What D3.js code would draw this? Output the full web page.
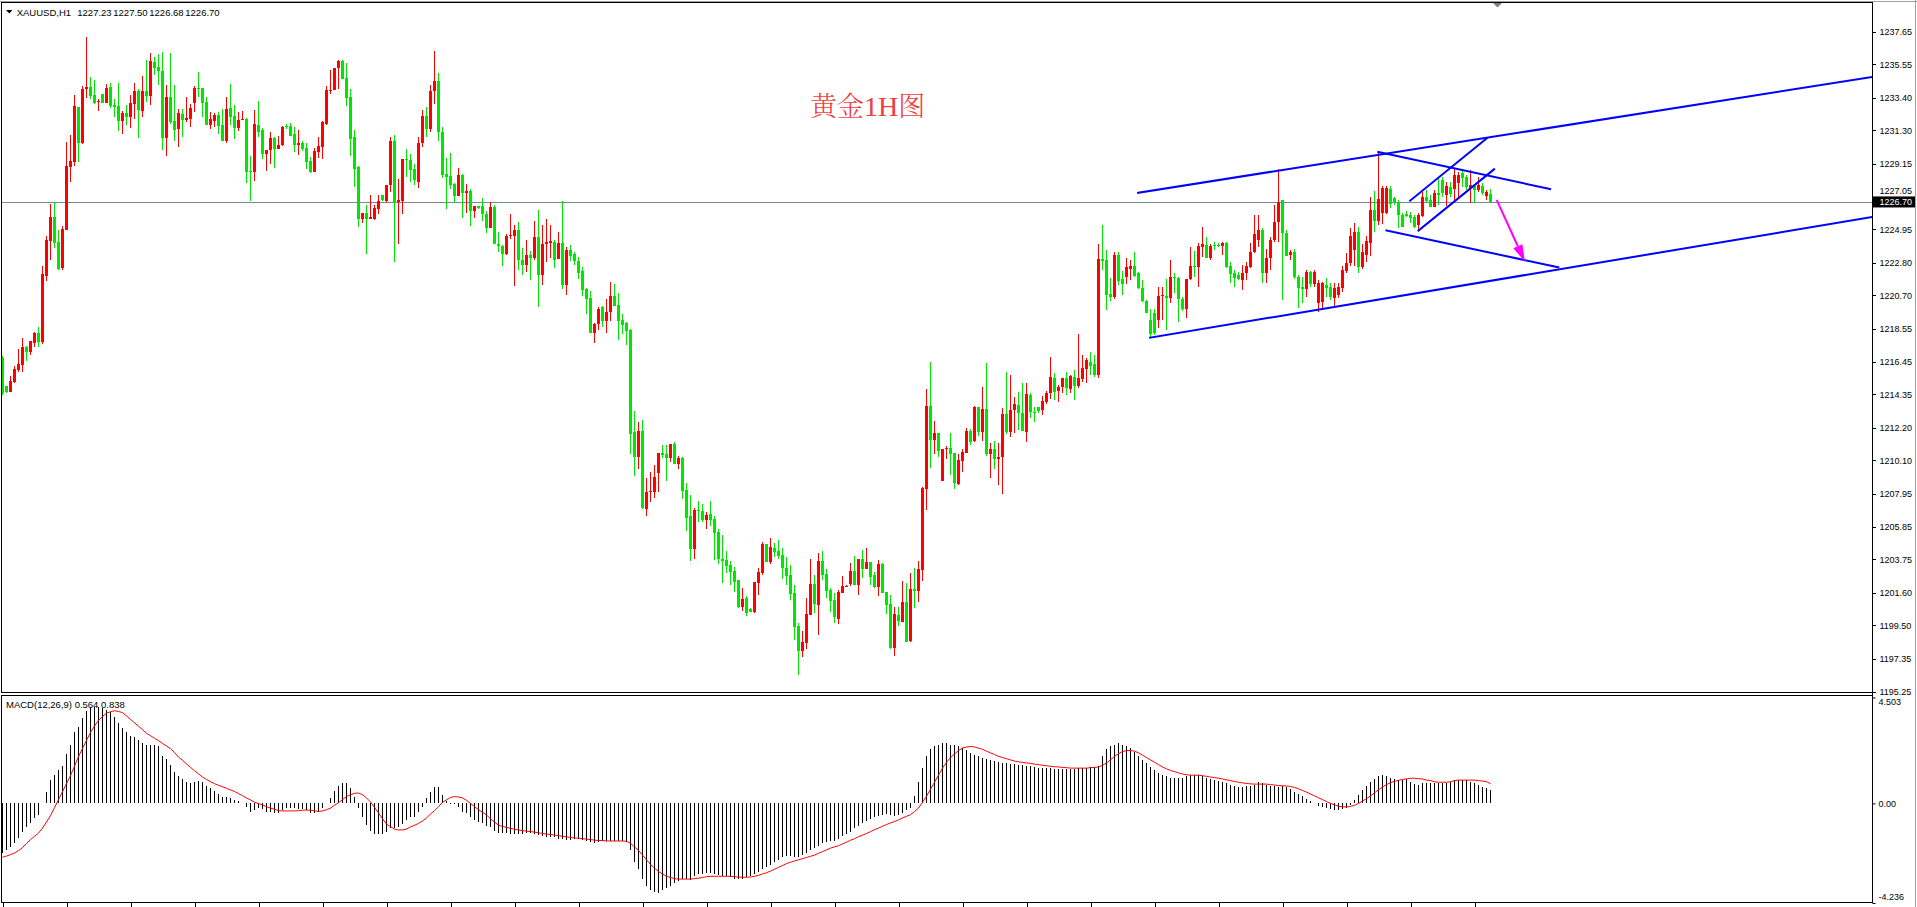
<!DOCTYPE html>
<html><head><meta charset="utf-8">
<script src="https://cdn.jsdelivr.net/npm/d3@7"></script>
<style>
html,body{margin:0;padding:0;background:#fff;overflow:hidden}
svg{display:block}
</style></head><body>
<svg id="c" width="1917" height="907"></svg>
<script>
// ---------- data ----------
const symbolLabel = "XAUUSD,H1";
const quoteValues = ["1227.23", "1227.50", "1226.68", "1226.70"];
const titleParts = ["黄金", "1H", "图"];
const macdLabel = "MACD(12,26,9) 0.564 0.838";
const priceTicks = [1195.25,1197.35,1199.50,1201.60,1203.75,1205.85,1207.95,1210.10,1212.20,1214.35,1216.45,1218.55,1220.70,1222.80,1224.95,1227.05,1229.15,1231.30,1233.40,1235.55,1237.65];
const currentPrice = 1226.70;
const macdTicks = [4.503, 0, -4.236];
const macdTickLabels = ["4.503", "0.00", "-4.236"];

const opens = [
1216.7,1214.88,1214.51,1215.15,1215.9,1216.22,1217.38,1217.08,1217.66,1218.3,
1217.72,1221.97,1224.22,1225.71,1224.13,1222.44,1224.92,1228.97,1229.29,1232.8,
1230.49,1233.94,1234.09,1233.57,1233.1,1233.64,1233.06,1234.09,1232.93,1232.87,
1231.9,1232.42,1232.16,1232.99,1233.83,1232.55,1233.83,1233.51,1235.69,1235.37,
1235.12,1230.81,1233.45,1231.9,1231.39,1232.35,1231.97,1232.03,1233.06,1234.02,
1234.02,1233.12,1231.65,1231.9,1232.29,1231.65,1230.62,1232.74,1232.22,1231.45,
1231.97,1232.03,1228.69,1228.63,1231.65,1231.33,1229.78,1230.04,1230.81,1230.1,
1230.36,1231.58,1231.58,1231.07,1230.36,1230.49,1230.17,1229.33,1228.63,1229.91,
1230.23,1231.71,1233.83,1233.9,1235.31,1235.76,1234.67,1233.45,1230.87,1228.95,
1225.61,1226.0,1225.61,1225.61,1226.24,1227.17,1226.76,1227.78,1230.6,1226.71,
1226.78,1229.49,1229.38,1228.84,1228.0,1230.5,1232.2,1231.4,1233.8,1234.5,
1231.2,1228.51,1228.38,1227.84,1227.06,1228.44,1227.26,1227.43,1226.11,1226.45,
1226.45,1225.95,1225.0,1226.39,1224.02,1223.89,1223.38,1224.51,1224.51,1224.92,
1223.0,1222.65,1223.28,1223.09,1224.45,1222.01,1223.98,1224.04,1224.15,1223.05,
1224.08,1221.38,1223.64,1223.37,1222.9,1222.27,1221.09,1220.5,1218.25,1218.86,
1219.92,1219.03,1219.64,1220.65,1220.09,1219.12,1218.9,1218.45,1211.89,1210.33,
1212.0,1206.99,1208.07,1208.07,1209.28,1210.57,1210.5,1210.28,1211.17,1209.84,
1210.22,1208.22,1206.55,1204.4,1206.9,1206.86,1206.26,1206.67,1206.34,1205.52,
1203.77,1203.67,1203.39,1202.97,1202.44,1200.7,1201.25,1200.55,1200.34,1202.24,
1202.84,1204.73,1203.59,1204.47,1204.28,1204.02,1203.18,1202.74,1201.58,1199.46,
1197.87,1198.39,1200.19,1202.16,1200.83,1203.63,1202.8,1201.77,1201.13,1199.93,
1201.6,1202.03,1202.16,1203.0,1202.09,1203.76,1203.12,1203.59,1202.74,1201.99,
1203.44,1201.64,1200.87,1198.07,1200.17,1199.74,1201.02,1198.5,1201.81,1201.73,
1203.06,1208.28,1213.59,1211.41,1211.84,1208.8,1210.81,1210.91,1210.55,1208.58,
1210.08,1210.59,1211.99,1211.34,1213.53,1211.94,1213.4,1210.51,1210.83,1210.21,
1210.34,1213.08,1211.92,1213.34,1213.66,1213.12,1211.94,1214.3,1213.23,1213.51,
1213.34,1213.87,1214.4,1215.37,1214.55,1214.83,1215.37,1214.66,1215.43,1214.88,
1215.33,1215.97,1216.44,1216.29,1215.58,1223.03,1222.97,1220.79,1220.57,1223.29,
1221.73,1221.9,1222.42,1222.59,1222.11,1221.15,1220.34,1219.12,1219.59,1219.12,
1220.66,1220.66,1220.51,1221.86,1221.79,1220.44,1219.8,1221.73,1222.59,1222.54,
1223.83,1223.94,1223.08,1223.94,1223.94,1223.87,1224.04,1222.59,1222.16,1222.01,
1221.69,1222.16,1222.54,1223.51,1224.25,1224.9,1222.12,1223.08,1224.26,1225.43,
1226.83,1224.73,1223.29,1223.51,1221.9,1221.26,1221.09,1222.22,1221.43,1220.19,
1220.29,1221.36,1221.26,1220.51,1220.72,1221.15,1222.27,1222.76,1223.6,1224.79,
1222.54,1223.3,1224.04,1226.18,1225.5,1226.0,1225.97,1227.51,1226.93,1226.72,
1225.86,1225.92,1225.86,1225.71,1225.22,1225.8,1227.04,1226.82,1226.4,1227.25,
1228.11,1227.14,1227.68,1227.51,1227.94,1228.54,1228.32,1227.57,1227.72,1227.47,
1227.72,1227.08,1227.23];

const highs = [
1216.8,1214.9,1215.52,1216.16,1217.23,1217.96,1217.45,1217.74,1218.34,1218.67,
1222.61,1224.52,1226.57,1226.72,1224.9,1225.16,1230.55,1231.0,1233.59,1232.8,
1234.17,1237.3,1234.73,1234.54,1233.32,1233.64,1234.28,1234.34,1233.32,1234.34,
1232.55,1232.93,1233.57,1234.34,1233.96,1234.79,1235.82,1236.27,1236.01,1236.21,
1236.34,1234.22,1236.27,1234.22,1232.67,1232.67,1233.45,1232.99,1234.15,1235.05,
1234.02,1233.45,1232.48,1232.42,1232.48,1232.67,1233.45,1234.28,1232.93,1232.48,
1232.55,1232.1,1229.66,1232.61,1233.19,1231.45,1230.04,1231.2,1230.87,1230.94,
1231.58,1231.71,1231.78,1231.52,1231.33,1230.62,1230.49,1229.59,1230.17,1230.87,
1231.9,1234.15,1235.18,1235.31,1235.82,1235.82,1235.63,1233.96,1231.33,1229.01,
1226.0,1226.51,1227.15,1226.51,1227.17,1227.17,1227.82,1230.9,1231.0,1228.17,
1229.49,1230.1,1229.77,1229.15,1230.9,1232.6,1232.8,1234.2,1236.4,1235.0,
1231.5,1229.55,1229.83,1227.91,1228.9,1228.51,1227.86,1227.56,1226.45,1226.45,
1226.98,1226.11,1226.72,1226.52,1224.75,1223.96,1224.67,1225.91,1225.23,1225.44,
1223.76,1224.28,1223.55,1225.5,1226.16,1225.23,1225.58,1225.23,1224.28,1224.77,
1226.74,1223.79,1223.94,1223.5,1223.16,1222.5,1221.16,1220.96,1218.95,1219.96,
1220.03,1220.45,1221.55,1221.42,1220.83,1219.49,1218.96,1218.57,1213.28,1212.57,
1212.7,1208.95,1209.38,1209.8,1210.57,1211.06,1211.06,1211.17,1211.25,1210.37,
1210.29,1208.63,1207.87,1207.04,1207.5,1207.3,1206.77,1207.5,1206.55,1205.7,
1205.32,1204.27,1203.63,1203.24,1202.44,1201.89,1201.4,1200.59,1202.31,1203.16,
1204.83,1204.73,1205.09,1204.81,1204.98,1204.5,1203.9,1203.38,1202.09,1199.63,
1199.16,1201.24,1203.76,1202.74,1204.13,1204.28,1203.1,1201.92,1201.56,1201.77,
1202.67,1202.1,1203.53,1203.96,1203.76,1204.34,1204.47,1203.59,1202.95,1203.7,
1203.48,1201.64,1201.45,1200.7,1200.66,1202.35,1202.2,1202.84,1203.21,1203.63,
1208.41,1214.68,1216.44,1212.63,1211.84,1210.81,1211.04,1211.88,1210.55,1210.51,
1210.81,1212.16,1212.14,1213.59,1213.53,1214.79,1216.38,1211.19,1211.34,1211.19,
1213.46,1215.8,1215.58,1214.19,1214.51,1215.09,1215.09,1214.4,1213.55,1213.51,
1214.23,1214.57,1216.76,1215.73,1214.94,1215.37,1215.75,1215.58,1215.9,1218.22,
1216.87,1216.65,1217.06,1216.87,1223.99,1225.22,1223.61,1221.79,1223.51,1223.51,
1222.29,1223.08,1222.97,1223.49,1222.22,1221.69,1220.4,1219.8,1219.8,1221.26,
1221.26,1221.73,1222.97,1222.16,1221.9,1220.62,1221.73,1223.83,1223.57,1224.04,
1225.07,1224.47,1224.0,1224.1,1224.04,1224.15,1224.15,1222.87,1222.33,1222.22,
1222.65,1222.87,1224.04,1225.86,1225.86,1225.01,1223.68,1224.47,1226.51,1228.8,
1226.83,1224.9,1223.61,1223.66,1222.01,1221.9,1222.33,1222.27,1222.33,1221.69,
1221.58,1221.79,1221.47,1221.47,1221.47,1222.59,1223.4,1225.0,1225.33,1225.1,
1224.0,1224.5,1227.04,1227.4,1229.85,1227.75,1227.72,1227.72,1227.04,1226.82,
1225.97,1226.14,1226.07,1225.86,1225.97,1227.36,1227.47,1227.14,1227.47,1228.22,
1228.32,1228.0,1228.0,1228.86,1228.64,1228.75,1228.43,1228.75,1227.79,1228.32,
1227.89,1227.47,1227.5];

const lows = [
1214.3,1214.45,1214.5,1215.09,1215.8,1215.8,1216.48,1216.89,1217.4,1217.4,
1217.6,1221.63,1222.97,1223.72,1222.33,1222.33,1224.9,1228.01,1229.03,1229.29,
1230.43,1233.4,1233.32,1232.97,1232.57,1233.06,1233.06,1232.74,1232.16,1231.26,
1231.07,1231.65,1231.45,1232.03,1230.81,1232.16,1233.12,1232.93,1234.86,1234.22,
1230.04,1229.66,1231.71,1230.62,1230.23,1230.87,1231.84,1231.52,1232.48,1233.45,
1232.16,1231.65,1231.39,1231.52,1231.07,1230.62,1230.49,1231.65,1230.75,1231.26,
1231.97,1227.92,1226.76,1228.05,1230.87,1229.46,1228.69,1229.14,1228.88,1230.1,
1230.3,1231.39,1230.94,1229.91,1229.72,1229.98,1228.82,1228.56,1228.63,1229.53,
1229.46,1231.65,1233.64,1233.9,1233.96,1234.6,1232.87,1229.66,1227.66,1225.09,
1225.35,1223.36,1225.61,1225.54,1225.91,1226.76,1226.71,1227.33,1222.86,1223.98,
1225.91,1228.33,1228.0,1227.8,1227.58,1230.2,1230.9,1231.2,1233.0,1230.6,
1228.23,1226.24,1227.53,1226.62,1227.06,1225.68,1225.98,1225.13,1225.67,1226.23,
1225.5,1224.72,1225.0,1224.02,1223.48,1222.6,1223.27,1224.32,1221.27,1222.31,
1221.99,1222.23,1221.68,1222.94,1219.96,1221.38,1222.85,1223.1,1222.45,1223.05,
1221.12,1220.74,1222.9,1222.64,1221.76,1220.68,1219.47,1218.25,1217.65,1218.47,
1218.64,1218.25,1219.03,1220.03,1217.85,1218.19,1217.51,1210.52,1209.07,1209.53,
1206.99,1206.5,1207.42,1207.67,1208.07,1210.23,1208.75,1209.97,1209.84,1209.57,
1207.63,1205.58,1203.63,1203.77,1206.17,1206.17,1205.7,1205.86,1203.68,1203.45,
1202.25,1202.87,1202.1,1201.62,1200.63,1200.45,1200.1,1200.34,1200.27,1201.45,
1202.74,1203.59,1203.44,1203.91,1203.76,1202.5,1202.09,1201.13,1198.56,1196.3,
1197.45,1198.0,1200.19,1200.32,1198.88,1202.41,1201.24,1200.34,1199.67,1199.57,
1201.56,1202.0,1202.03,1202.09,1201.45,1202.52,1203.12,1202.09,1201.88,1201.41,
1201.56,1200.23,1198.0,1197.53,1199.48,1199.74,1198.45,1198.45,1200.64,1201.02,
1202.37,1206.91,1209.63,1210.51,1210.34,1208.8,1210.17,1209.16,1208.24,1208.52,
1209.37,1210.59,1211.09,1211.28,1211.69,1211.34,1210.38,1208.99,1209.52,1208.52,
1207.92,1211.79,1211.62,1211.84,1212.05,1212.01,1211.3,1212.84,1212.58,1213.12,
1213.01,1213.72,1214.02,1213.98,1213.87,1214.4,1214.3,1214.45,1213.98,1214.73,
1215.11,1215.09,1215.58,1215.43,1215.41,1222.33,1219.76,1220.36,1220.44,1221.36,
1220.72,1221.43,1221.69,1221.86,1221.09,1220.29,1219.55,1218.05,1218.15,1218.58,
1219.12,1218.47,1220.19,1220.87,1219.01,1219.72,1219.22,1221.69,1221.9,1221.26,
1223.19,1223.08,1223.0,1223.6,1223.8,1223.29,1222.44,1221.47,1221.26,1221.69,
1221.04,1221.69,1222.44,1223.4,1223.83,1221.47,1221.47,1222.33,1224.15,1224.15,
1220.4,1223.23,1222.97,1221.73,1219.87,1220.19,1220.62,1221.26,1221.26,1219.65,
1219.76,1220.62,1220.4,1219.98,1220.51,1220.94,1222.16,1222.59,1222.6,1222.11,
1222.37,1222.87,1223.23,1224.8,1225.2,1225.3,1225.9,1226.29,1226.5,1225.0,
1225.07,1225.75,1225.32,1225.0,1224.9,1225.75,1226.72,1226.35,1226.35,1226.5,
1227.04,1226.44,1227.04,1226.82,1227.04,1227.68,1227.47,1226.65,1226.61,1227.36,
1227.14,1226.82,1226.68];

const closes = [
1214.4,1214.5,1215.2,1215.97,1216.29,1217.38,1217.08,1217.74,1218.3,1217.72,
1222.07,1224.26,1225.71,1224.09,1222.4,1224.97,1228.99,1229.33,1232.87,1230.49,
1233.96,1234.09,1233.53,1233.06,1233.19,1233.06,1234.02,1232.87,1232.8,1231.9,
1232.42,1232.16,1233.06,1233.83,1232.61,1233.83,1233.51,1235.76,1235.31,1235.12,
1230.81,1233.45,1231.84,1231.33,1232.42,1231.97,1232.1,1232.74,1234.02,1234.0,
1233.06,1231.65,1232.03,1232.29,1231.58,1230.62,1232.67,1232.16,1231.45,1231.97,
1232.03,1228.63,1228.63,1231.71,1231.2,1229.78,1230.04,1230.81,1230.1,1230.36,
1231.52,1231.52,1230.94,1230.36,1230.49,1230.1,1229.27,1228.63,1229.98,1230.3,
1231.84,1233.9,1233.9,1235.31,1235.76,1234.6,1233.38,1230.75,1228.82,1225.61,
1226.0,1225.61,1225.74,1226.31,1226.76,1226.85,1227.82,1230.6,1226.67,1226.82,
1229.49,1229.38,1228.77,1228.08,1230.5,1232.2,1231.4,1233.8,1234.5,1231.2,
1228.44,1228.33,1227.78,1227.06,1228.44,1227.26,1227.38,1226.11,1226.45,1226.29,
1225.91,1225.0,1226.39,1224.02,1223.89,1223.33,1224.51,1224.6,1224.92,1222.94,
1222.65,1223.28,1223.09,1224.45,1222.01,1223.98,1224.1,1224.17,1222.96,1224.08,
1221.38,1223.64,1223.24,1222.9,1222.16,1221.03,1220.45,1218.25,1218.86,1219.84,
1219.03,1219.64,1220.65,1220.03,1219.03,1218.82,1218.41,1211.82,1210.33,1212.0,
1207.04,1208.07,1208.13,1209.02,1210.57,1210.46,1210.28,1211.17,1209.84,1210.22,
1208.16,1206.41,1204.4,1206.9,1206.82,1206.26,1206.61,1206.26,1205.46,1203.77,
1203.63,1203.31,1202.91,1202.3,1200.7,1201.22,1200.3,1200.38,1202.26,1202.91,
1204.73,1203.59,1204.56,1204.23,1203.98,1203.16,1202.67,1201.54,1199.42,1197.87,
1198.43,1200.23,1202.16,1200.87,1203.63,1202.74,1201.71,1201.09,1200.02,1201.62,
1202.03,1202.05,1203.0,1202.09,1203.76,1203.12,1203.59,1202.63,1201.99,1203.44,
1201.6,1200.81,1198.07,1200.23,1199.8,1201.02,1198.45,1201.81,1201.73,1203.12,
1208.32,1213.59,1211.41,1211.84,1210.7,1210.81,1210.91,1210.51,1208.62,1210.12,
1210.64,1211.99,1211.3,1213.53,1211.94,1213.4,1210.51,1210.83,1210.17,1210.34,
1213.08,1211.92,1213.34,1213.72,1213.12,1212.01,1214.36,1213.18,1213.12,1213.29,
1213.91,1214.4,1215.43,1214.51,1214.83,1215.37,1214.73,1215.52,1214.88,1215.37,
1216.01,1216.55,1216.16,1215.58,1223.03,1222.91,1220.72,1220.57,1223.29,1221.62,
1221.45,1222.54,1222.59,1221.94,1221.15,1220.34,1219.59,1218.22,1218.26,1220.66,
1220.7,1220.51,1221.86,1221.79,1220.44,1219.8,1221.73,1222.59,1222.5,1223.87,
1224.0,1223.08,1223.87,1223.87,1223.9,1224.04,1222.54,1222.05,1221.79,1221.73,
1222.16,1222.59,1223.51,1224.64,1224.9,1222.12,1223.08,1224.26,1225.43,1226.72,
1224.73,1223.23,1223.51,1221.9,1221.15,1221.09,1222.22,1221.43,1222.22,1221.52,
1221.47,1221.15,1220.57,1221.15,1221.26,1222.33,1222.8,1224.5,1224.79,1222.5,
1223.5,1224.2,1226.18,1225.5,1226.89,1227.57,1227.57,1226.57,1226.61,1225.86,
1225.11,1225.8,1225.65,1225.11,1225.86,1227.04,1226.78,1226.4,1227.25,1227.14,
1227.25,1227.72,1227.21,1228.43,1228.43,1228.22,1227.68,1227.79,1227.47,1227.79,
1227.25,1227.36,1226.7];

const macdHist = [
-2.09,-1.98,-1.84,-1.67,-1.49,-1.21,-0.99,-0.82,-0.64,-0.49,
0.0,0.5,1.0,1.21,1.42,1.59,2.1,2.48,3.05,3.26,
3.62,3.94,4.08,4.11,4.11,4.04,3.97,3.9,3.69,3.43,
3.19,3.05,2.87,2.84,2.7,2.58,2.48,2.48,2.48,2.44,
2.02,1.87,1.63,1.35,1.16,1.02,0.92,0.88,0.92,0.96,
0.92,0.74,0.64,0.54,0.4,0.26,0.26,0.21,0.14,0.12,
0.03,-0.17,-0.35,-0.28,-0.21,-0.25,-0.35,-0.35,-0.39,-0.39,
-0.28,-0.21,-0.18,-0.21,-0.25,-0.25,-0.28,-0.42,-0.39,-0.35,
-0.21,0.03,0.21,0.54,0.74,0.88,0.88,0.64,0.28,-0.21,
-0.57,-0.92,-1.16,-1.3,-1.3,-1.3,-1.2,-1.06,-1.06,-1.02,
-0.88,-0.71,-0.6,-0.57,-0.35,-0.14,0.21,0.5,0.68,0.68,
0.36,0.12,-0.03,-0.03,-0.17,-0.35,-0.42,-0.57,-0.71,-0.78,
-0.82,-0.96,-0.99,-1.16,-1.24,-1.25,-1.28,-1.3,-1.3,-1.32,
-1.3,-1.28,-1.26,-1.3,-1.35,-1.4,-1.42,-1.45,-1.45,-1.5,
-1.5,-1.55,-1.55,-1.5,-1.5,-1.55,-1.6,-1.65,-1.7,-1.65,
-1.6,-1.6,-1.6,-1.58,-1.6,-1.62,-1.65,-2.0,-2.5,-2.8,
-3.2,-3.5,-3.7,-3.75,-3.8,-3.7,-3.6,-3.5,-3.4,-3.3,
-3.2,-3.2,-3.25,-3.1,-3.0,-3.0,-2.95,-2.95,-3.0,-3.05,
-3.1,-3.1,-3.15,-3.2,-3.2,-3.2,-3.15,-3.1,-3.0,-2.9,
-2.8,-2.7,-2.6,-2.5,-2.4,-2.3,-2.25,-2.25,-2.3,-2.3,
-2.2,-2.1,-2.0,-1.9,-1.8,-1.7,-1.65,-1.6,-1.6,-1.5,
-1.4,-1.3,-1.2,-1.05,-0.95,-0.85,-0.75,-0.65,-0.6,-0.55,
-0.5,-0.45,-0.5,-0.55,-0.5,-0.4,-0.3,-0.2,0.3,0.9,
1.5,2.0,2.3,2.45,2.5,2.55,2.55,2.5,2.5,2.45,
2.35,2.25,2.15,2.05,2.0,1.95,1.9,1.85,1.8,1.75,
1.72,1.7,1.68,1.66,1.65,1.62,1.6,1.58,1.55,1.52,
1.5,1.5,1.5,1.48,1.48,1.46,1.45,1.45,1.46,1.5,
1.5,1.52,1.55,1.55,1.6,2.0,2.3,2.45,2.5,2.55,
2.5,2.45,2.35,2.2,2.0,1.85,1.7,1.55,1.4,1.3,
1.2,1.15,1.1,1.1,1.1,1.1,1.15,1.2,1.2,1.2,
1.15,1.1,1.05,1.0,0.95,0.9,0.85,0.8,0.75,0.7,
0.7,0.72,0.75,0.8,0.9,0.85,0.8,0.75,0.72,0.7,
0.72,0.68,0.6,0.5,0.4,0.3,0.2,0.1,0.0,-0.1,
-0.15,-0.2,-0.25,-0.3,-0.3,-0.25,-0.2,-0.05,0.15,0.35,
0.55,0.75,0.9,1.05,1.15,1.2,1.15,1.1,1.05,1.0,
0.99,1.02,0.92,0.83,0.78,0.85,0.88,0.88,0.88,0.88,
0.88,0.88,0.91,0.99,0.99,0.99,0.99,0.92,0.85,0.78,
0.71,0.64,0.564];

const macdSignal = [
-2.29,-2.24,-2.18,-2.11,-2.01,-1.88,-1.7,-1.54,-1.4,-1.26,
-1.05,-0.79,-0.52,-0.18,0.16,0.5,0.84,1.18,1.59,1.99,
2.34,2.68,3.02,3.29,3.53,3.7,3.83,3.9,3.94,3.91,
3.86,3.72,3.57,3.43,3.28,3.14,2.98,2.88,2.77,2.67,
2.55,2.44,2.33,2.16,1.97,1.83,1.68,1.53,1.39,1.26,
1.12,1.02,0.92,0.84,0.77,0.71,0.64,0.57,0.51,0.41,
0.33,0.23,0.15,0.05,-0.01,-0.07,-0.14,-0.2,-0.25,-0.31,
-0.32,-0.32,-0.32,-0.32,-0.31,-0.29,-0.28,-0.29,-0.32,-0.34,
-0.32,-0.27,-0.2,-0.08,0.03,0.16,0.29,0.37,0.43,0.44,
0.37,0.23,0.06,-0.17,-0.41,-0.65,-0.88,-0.99,-1.09,-1.13,
-1.13,-1.09,-1.0,-0.93,-0.85,-0.75,-0.62,-0.45,-0.31,-0.14,
0.05,0.15,0.25,0.29,0.27,0.23,0.13,0.0,-0.14,-0.27,
-0.38,-0.49,-0.66,-0.79,-0.93,-0.98,-1.02,-1.06,-1.1,-1.13,
-1.16,-1.18,-1.2,-1.22,-1.25,-1.28,-1.3,-1.32,-1.35,-1.37,
-1.4,-1.42,-1.45,-1.47,-1.48,-1.5,-1.52,-1.54,-1.56,-1.58,
-1.58,-1.6,-1.6,-1.6,-1.6,-1.6,-1.61,-1.7,-1.85,-2.0,
-2.2,-2.4,-2.6,-2.75,-2.9,-3.0,-3.1,-3.15,-3.2,-3.22,
-3.22,-3.22,-3.22,-3.2,-3.18,-3.15,-3.12,-3.1,-3.1,-3.1,
-3.1,-3.1,-3.1,-3.12,-3.13,-3.14,-3.14,-3.13,-3.1,-3.06,
-3.0,-2.95,-2.88,-2.8,-2.72,-2.64,-2.56,-2.5,-2.45,-2.4,
-2.35,-2.3,-2.25,-2.2,-2.12,-2.05,-1.98,-1.9,-1.85,-1.8,
-1.72,-1.65,-1.57,-1.5,-1.42,-1.35,-1.28,-1.2,-1.12,-1.05,
-0.97,-0.9,-0.83,-0.77,-0.7,-0.62,-0.55,-0.48,-0.35,-0.2,
0.05,0.3,0.6,0.9,1.2,1.5,1.75,1.95,2.1,2.25,
2.35,2.4,2.42,2.4,2.35,2.3,2.22,2.15,2.08,2.0,
1.95,1.9,1.85,1.8,1.77,1.74,1.72,1.7,1.67,1.65,
1.62,1.6,1.58,1.56,1.55,1.53,1.52,1.5,1.5,1.5,
1.5,1.5,1.52,1.53,1.55,1.62,1.72,1.85,2.0,2.12,
2.2,2.25,2.25,2.22,2.15,2.05,1.95,1.85,1.75,1.65,
1.55,1.47,1.4,1.35,1.3,1.25,1.22,1.2,1.2,1.2,
1.18,1.15,1.12,1.1,1.07,1.04,1.0,0.97,0.93,0.9,
0.87,0.85,0.83,0.82,0.82,0.82,0.82,0.8,0.78,0.76,
0.75,0.74,0.72,0.68,0.62,0.55,0.48,0.4,0.32,0.24,
0.16,0.08,0.0,-0.06,-0.12,-0.15,-0.15,-0.13,-0.08,0.0,
0.1,0.2,0.32,0.45,0.58,0.7,0.8,0.88,0.94,0.98,
1.02,1.04,1.07,1.07,1.05,1.04,0.99,0.97,0.92,0.9,
0.9,0.9,0.92,0.97,0.99,0.99,0.99,0.99,0.99,0.97,
0.95,0.92,0.838];

// trend lines drawn on the chart: [barIndex1, price1, barIndex2, price2]
const channelLines = [
  [283.9, 1227.29, 467.4, 1234.73],
  [286.9, 1217.98, 467.4, 1225.73],
  [343.95, 1229.91, 386.9, 1227.53],
  [346.0, 1224.87, 388.95, 1222.50],
  [351.9, 1226.78, 371.05, 1230.79],
  [354.0, 1224.86, 372.9, 1228.80]
];
const arrowLine = [373.55, 1226.83, 380.6, 1222.86];
const timeTickBars = d3.range(0, 373, 16);

// ---------- drawing ----------
const RED = "#ff0000", GREEN = "#00e600", BLUE = "#0000ff", MAGENTA = "#ff00ff";
const FONT = "'Liberation Sans', Arial, sans-serif";
const svg = d3.select("#c");

const x = d3.scaleLinear().domain([0, 372]).range([2.5, 1490.5]);
const y = d3.scaleLinear().domain([1195.25, 1237.65]).range([691.5, 31.5]);
const ym = d3.scaleLinear().domain([-4.236, 4.503]).range([903, 697.5]);

const defs = svg.append("defs");
defs.append("clipPath").attr("id", "mainClip").append("rect")
  .attr("x", 2).attr("y", 3).attr("width", 1870).attr("height", 689);

// frame lines
svg.append("line").attr("x1", 0).attr("x2", 1917).attr("y1", 1.5).attr("y2", 1.5).attr("stroke", "#a0a0a0");
svg.append("line").attr("x1", 1915.5).attr("x2", 1915.5).attr("y1", 0).attr("y2", 907).attr("stroke", "#a0a0a0");
svg.append("rect").attr("x", 1.5).attr("y", 2.5).attr("width", 1871).attr("height", 690)
  .attr("fill", "none").attr("stroke", "#000");
svg.append("rect").attr("x", 1.5).attr("y", 695.5).attr("width", 1871).attr("height", 207)
  .attr("fill", "none").attr("stroke", "#000");

const main = svg.append("g").attr("clip-path", "url(#mainClip)");

// current price line
main.append("line").attr("x1", 2).attr("x2", 1872)
  .attr("y1", Math.round(y(currentPrice)) + 0.5).attr("y2", Math.round(y(currentPrice)) + 0.5)
  .attr("stroke", "#778899").attr("stroke-width", 1);

// candles
const idx = d3.range(opens.length);
const isUp = i => closes[i] >= opens[i];
const cg = main.append("g").attr("shape-rendering", "crispEdges");
cg.selectAll("line.wick").data(idx).join("line").attr("class", "wick")
  .attr("x1", i => x(i)).attr("x2", i => x(i))
  .attr("y1", i => y(highs[i])).attr("y2", i => y(lows[i]))
  .attr("stroke", i => isUp(i) ? RED : GREEN).attr("stroke-width", 1);
cg.selectAll("rect.body").data(idx).join("rect").attr("class", "body")
  .attr("x", i => x(i) - 1.5).attr("width", 3)
  .attr("y", i => Math.min(y(opens[i]), y(closes[i])))
  .attr("height", i => Math.max(1, Math.abs(y(opens[i]) - y(closes[i]))))
  .attr("fill", i => isUp(i) ? RED : GREEN);

// channel lines
main.selectAll("line.ch").data(channelLines).join("line").attr("class", "ch")
  .attr("x1", d => x(d[0])).attr("y1", d => y(d[1]))
  .attr("x2", d => x(d[2])).attr("y2", d => y(d[3]))
  .attr("stroke", BLUE).attr("stroke-width", 2).attr("stroke-linecap", "square");

// arrow
{
  const x1 = x(arrowLine[0]), y1 = y(arrowLine[1]), x2 = x(arrowLine[2]), y2 = y(arrowLine[3]);
  const dx = x2 - x1, dy = y2 - y1, L = Math.hypot(dx, dy), ux = dx / L, uy = dy / L;
  const hl = 17, hw = 5;
  const bx = x2 - ux * hl, by = y2 - uy * hl;
  main.append("line").attr("x1", x1).attr("y1", y1).attr("x2", bx).attr("y2", by)
    .attr("stroke", MAGENTA).attr("stroke-width", 2);
  main.append("path")
    .attr("d", `M${x2},${y2}L${bx - uy * hw},${by + ux * hw}L${bx + uy * hw},${by - ux * hw}Z`)
    .attr("fill", MAGENTA);
}

// title (serif-looking latin part, CJK part)
const tt = svg.append("text").attr("x", 810).attr("y", 116).attr("font-size", 27).attr("fill", "#f03c3c");
tt.append("tspan").attr("font-family", "'Noto Serif CJK SC','Noto Sans CJK SC', sans-serif").attr("font-weight", 300).text(titleParts[0]);
tt.append("tspan").attr("font-family", "'Liberation Serif', serif").attr("font-size", 28).text(titleParts[1]);
tt.append("tspan").attr("font-family", "'Noto Serif CJK SC','Noto Sans CJK SC', sans-serif").attr("font-weight", 300).text(titleParts[2]);

// header
svg.append("path").attr("d", "M6,10L12.5,10L9.25,13.5Z").attr("fill", "#000");
const hdr = svg.append("g").attr("font-family", FONT).attr("font-size", 9.5).attr("fill", "#000");
hdr.append("text").attr("x", 16.7).attr("y", 15.5).text(symbolLabel);
hdr.selectAll("text.q").data(quoteValues).join("text").attr("class", "q")
  .attr("x", (d, k) => 77.3 + 36 * k).attr("y", 15.5).text(d => d);

// chart-shift marker
svg.append("path").attr("d", "M1493,3L1502,3L1497.5,7.5Z").attr("fill", "#808080");

// price axis
const pax = svg.append("g").attr("transform", "translate(1872.5,0)")
  .call(d3.axisRight(y).tickValues(priceTicks).tickSize(3).tickPadding(4).tickFormat(d3.format(".2f")));
pax.select(".domain").remove();
pax.attr("font-family", FONT).attr("font-size", 9);
pax.selectAll("line").attr("shape-rendering", "crispEdges");
// label next to the current-price box is nudged up so that it stays readable
pax.selectAll(".tick text").filter(d => Math.abs(y(d) - y(currentPrice)) < 8)
  .attr("transform", "translate(0,-5.5)");

// current price box
const cpY = y(currentPrice);
svg.append("rect").attr("x", 1873).attr("y", cpY - 5.5).attr("width", 42).attr("height", 11).attr("fill", "#000");
svg.append("text").attr("x", 1879.5).attr("y", cpY).attr("dy", "0.33em")
  .attr("font-family", FONT).attr("font-size", 9).attr("fill", "#fff").text(d3.format(".2f")(currentPrice));

// right axis line
svg.append("line").attr("x1", 1872.5).attr("x2", 1872.5).attr("y1", 2).attr("y2", 903).attr("stroke", "#000");

// MACD histogram
const mg = svg.append("g").attr("shape-rendering", "crispEdges");
mg.selectAll("line.h").data(idx).join("line").attr("class", "h")
  .attr("x1", i => x(i)).attr("x2", i => x(i))
  .attr("y1", ym(0)).attr("y2", i => ym(macdHist[i]))
  .attr("stroke", "#000").attr("stroke-width", 1);
// signal
svg.append("path").datum(idx)
  .attr("d", d3.line().x(i => x(i)).y(i => ym(macdSignal[i])))
  .attr("fill", "none").attr("stroke", RED).attr("stroke-width", 1);

// MACD label
svg.append("text").attr("x", 6).attr("y", 707.5).attr("font-family", FONT).attr("font-size", 9.5)
  .attr("fill", "#000").text(macdLabel);

// MACD axis
const max = svg.append("g").attr("transform", "translate(1872.5,0)")
  .call(d3.axisRight(ym).tickValues(macdTicks).tickSize(3).tickPadding(3)
    .tickFormat((d, k) => macdTickLabels[k]));
max.select(".domain").remove();
max.attr("font-family", FONT).attr("font-size", 9);
max.selectAll(".tick text").attr("transform", (d, k) => k === 0 ? "translate(0,4.5)" : (k === 2 ? "translate(0,-6)" : null));

// time ticks (their labels fall below the visible window)
const tax = svg.append("g").attr("transform", "translate(0,903)")
  .call(d3.axisBottom(x).tickValues(timeTickBars).tickSize(4).tickFormat(""));
tax.select(".domain").remove();
tax.selectAll("line").attr("shape-rendering", "crispEdges");
</script>
</body></html>
